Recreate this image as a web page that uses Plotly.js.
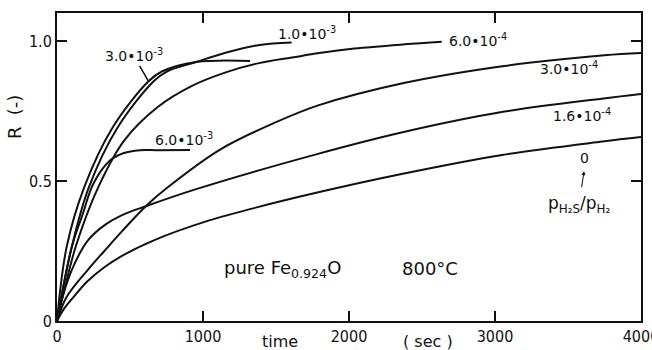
<!DOCTYPE html>
<html><head><meta charset="utf-8">
<script src="https://cdn.plot.ly/plotly-3.0.1.min.js"></script>
<style>html,body{margin:0;padding:0;background:#fff}</style>
</head><body><div id="chart" style="width:652px;height:350px"></div>
<script>
// pH2S/pH2 series
const seriesNames = ['0', '1.6e-4', '3.0e-4', '6.0e-4', '1.0e-3', '3.0e-3', '6.0e-3'];

const t_p0 = [0, 50, 113, 205, 324, 442, 671, 1016, 1361, 1775, 2360, 3049, 3736, 4000];
const R_p0 = [0, 0.045, 0.085, 0.140, 0.192, 0.232, 0.290, 0.355, 0.405, 0.458, 0.525, 0.593, 0.641, 0.657];

const t_p16e4 = [0, 40, 119, 212, 331, 449, 608, 953, 1781, 2367, 3055, 3743, 4000];
const R_p16e4 = [0, 0.09, 0.203, 0.288, 0.344, 0.379, 0.410, 0.471, 0.596, 0.674, 0.747, 0.795, 0.811];

const t_p30e4 = [0, 65, 207, 326, 446, 608, 748, 1117, 1500, 1789, 2375, 3063, 3750, 4000];
const R_p30e4 = [0, 0.085, 0.180, 0.251, 0.321, 0.410, 0.473, 0.612, 0.710, 0.770, 0.850, 0.911, 0.949, 0.957];

const t_p60e4 = [0, 50, 128, 282, 461, 692, 921, 1156, 1384, 1611, 1797, 2037, 2380, 2635];
const R_p60e4 = [0, 0.11, 0.265, 0.477, 0.645, 0.765, 0.839, 0.888, 0.921, 0.941, 0.957, 0.973, 0.988, 0.997];

const t_p10e3 = [0, 101, 218, 414, 662, 752, 953, 1160, 1387, 1607];
const R_p10e3 = [0, 0.264, 0.477, 0.690, 0.856, 0.891, 0.925, 0.959, 0.986, 0.995];

const t_p30e3 = [0, 66, 186, 380, 627, 718, 953, 1323];
const R_p30e3 = [0, 0.264, 0.477, 0.690, 0.856, 0.891, 0.925, 0.929];

const t_p60e3 = [0, 101, 175, 249, 361, 458, 568, 685, 911];
const R_p60e3 = [0, 0.264, 0.380, 0.490, 0.572, 0.600, 0.610, 0.610, 0.611];

const xTickVals = [0, 1000, 2000, 3000, 4000];
const xTickText = ['0', '1000', '2000', '3000', '4000'];
const yTickVals = [0, 0.5, 1.0];
const yTickText = ['0', '0.5', '1.0'];

const curveLabels = ['0', '1.6•10<sup>-4</sup>', '3.0•10<sup>-4</sup>', '6.0•10<sup>-4</sup>',
                     '1.0•10<sup>-3</sup>', '3.0•10<sup>-3</sup>', '6.0•10<sup>-3</sup>'];

const seriesT = [t_p0, t_p16e4, t_p30e4, t_p60e4, t_p10e3, t_p30e3, t_p60e3];
const seriesR = [R_p0, R_p16e4, R_p30e4, R_p60e4, R_p10e3, R_p30e3, R_p60e3];

const INK = '#111';
const FONT = 'DejaVu Sans, Liberation Sans, sans-serif';
const TICKFONT = 'DejaVu Sans Condensed, Liberation Sans Narrow, DejaVu Sans, sans-serif';

const traces = seriesT.map((t, i) => ({
  x: t, y: seriesR[i], name: seriesNames[i], type: 'scatter', mode: 'lines',
  line: {color: INK, width: 2, shape: 'spline', smoothing: 1.0},
  hoverinfo: 'skip', showlegend: false
}));

// label placement (data coords) for each curve label
const labelPos = [
  {x: 3610, y: 0.582}, {x: 3596, y: 0.736}, {x: 3508, y: 0.904}, {x: 2882, y: 1.002},
  {x: 1710, y: 1.029}, null, {x: 871, y: 0.65}
];

const annotations = [];
curveLabels.forEach((txt, i) => {
  if (!labelPos[i]) return;
  annotations.push({x: labelPos[i].x, y: labelPos[i].y, xref: 'x', yref: 'y', text: txt,
    xanchor: 'center', yanchor: 'middle',
    showarrow: false, font: {family: FONT, size: 14, color: INK}});
});
// 3.0e-3 label with leader line
annotations.push({x: 627, y: 0.856, xref: 'x', yref: 'y', text: curveLabels[5],
  showarrow: true, arrowhead: 0, arrowwidth: 1.5, arrowcolor: INK, ax: -15, ay: -26,
  font: {family: FONT, size: 14, color: INK}});
// pH2S/pH2 with arrow up to "0"
annotations.push({x: 3610, y: 0.535, xref: 'x', yref: 'y', text: 'p<sub>H₂S</sub>/p<sub>H₂</sub>',
  showarrow: true, arrowhead: 2, arrowsize: 0.8, arrowwidth: 1, arrowcolor: INK, ax: -5, ay: 33,
  startstandoff: 4, font: {family: FONT, size: 17, color: INK}});
annotations.push({x: 1543, y: 0.1875, xref: 'x', yref: 'y', text: 'pure Fe<sub>0.924</sub>O',
  xanchor: 'center', yanchor: 'middle',
  showarrow: false, font: {family: FONT, size: 18, color: INK}});
annotations.push({x: 2557, y: 0.187, xref: 'x', yref: 'y', text: '800°C',
  xanchor: 'center', yanchor: 'middle',
  showarrow: false, font: {family: FONT, size: 18, color: INK}});
// axis titles
annotations.push({x: -0.0736, y: 0.662, xref: 'paper', yref: 'paper', text: 'R  (-)', textangle: -90,
  xanchor: 'center', yanchor: 'middle',
  showarrow: false, font: {family: FONT, size: 18, color: INK}});
annotations.push({x: 0.382, y: -0.068, xref: 'paper', yref: 'paper', text: 'time',
  xanchor: 'center', yanchor: 'middle',
  showarrow: false, font: {family: FONT, size: 16, color: INK}});
annotations.push({x: 0.635, y: -0.065, xref: 'paper', yref: 'paper', text: '( sec )',
  xanchor: 'center', yanchor: 'middle',
  showarrow: false, font: {family: FONT, size: 16, color: INK}});

const axisCommon = {
  showgrid: false, zeroline: false, showline: true, linecolor: INK, linewidth: 2,
  ticks: 'inside', ticklen: 10, tickwidth: 2, tickcolor: INK, mirror: 'ticks',
  tickfont: {family: TICKFONT, size: 16, color: INK}, fixedrange: true
};

const layout = {
  width: 652, height: 350,
  margin: {l: 57, r: 11, t: 13, b: 29, pad: 0},
  paper_bgcolor: '#fff', plot_bgcolor: '#fff',
  xaxis: Object.assign({}, axisCommon, {range: [0, 4000], tickmode: 'array', tickvals: xTickVals,
    ticktext: xTickText, ticklabeloverflow: 'allow'}),
  yaxis: Object.assign({}, axisCommon, {range: [0, 1.1], tickmode: 'array', tickvals: yTickVals, ticktext: yTickText}),
  annotations: annotations,
  showlegend: false
};

Plotly.newPlot('chart', traces, layout, {staticPlot: true, displayModeBar: false});
</script></body></html>
